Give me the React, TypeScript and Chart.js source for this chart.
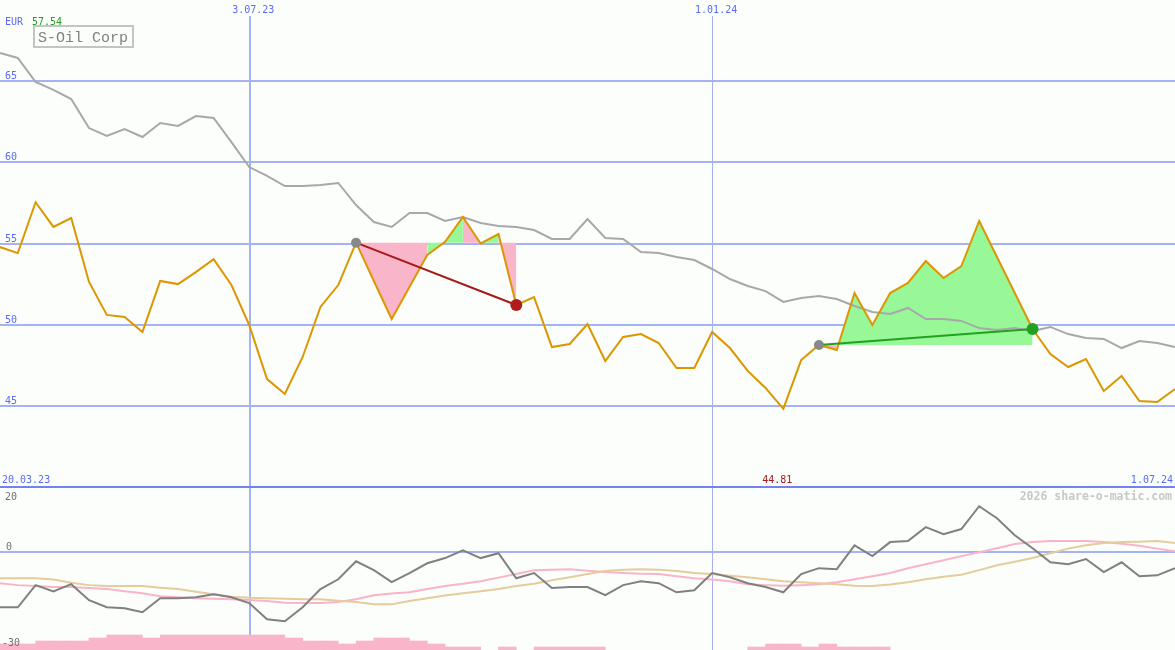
import React, { useEffect, useRef } from 'react';
import { Chart, registerables } from 'chart.js';

Chart.register(...registerables);

// ---------------- data ----------------
const weekIndex = Array.from({ length: 67 }, (_, i) => i);

const closePrices = [
  54.78, 54.41, 57.54, 56.02, 56.57, 52.63, 50.6, 50.47, 49.55, 52.69,
  52.5, 53.24, 54.04, 52.44, 49.98, 46.65, 45.73, 48.01, 51.09, 52.44,
  55.05, 52.69, 50.35, 52.32, 54.29, 55.1, 56.63, 55.0, 55.58, 51.21,
  51.7, 48.62, 48.81, 50.04, 47.76, 49.24, 49.42, 48.87, 47.33, 47.33,
  49.55, 48.56, 47.15, 46.1, 44.81, 47.82, 48.75, 48.44, 51.95, 49.98,
  51.95, 52.57, 53.92, 52.87, 53.61, 56.39, 54.17, 51.95, 49.73, 48.19,
  47.39, 47.88, 45.91, 46.84, 45.3, 45.24, 46.04,
];

const movingAvg = [
  66.74, 66.43, 64.95, 64.46, 63.9, 62.11, 61.62, 62.05, 61.56, 62.42,
  62.24, 62.85, 62.73, 61.25, 59.71, 59.16, 58.54, 58.54, 58.6, 58.73,
  57.37, 56.32, 56.02, 56.88, 56.88, 56.39, 56.63, 56.26, 56.08, 56.02,
  55.83, 55.28, 55.28, 56.51, 55.34, 55.28, 54.48, 54.41, 54.17, 53.98,
  53.43, 52.81, 52.38, 52.07, 51.4, 51.64, 51.77, 51.58, 51.15, 50.78,
  50.66, 51.03, 50.35, 50.35, 50.23, 49.79, 49.67, 49.79, 49.61, 49.86,
  49.42, 49.18, 49.12, 48.56, 48.99, 48.87, 48.62,
];

const oscillator = [
  -16.9, -16.9, -10.1, -12.0, -9.8, -14.7, -16.9, -17.2, -18.4, -14.1,
  -14.1, -13.8, -12.9, -13.8, -15.6, -20.6, -21.2, -16.9, -11.3, -8.3,
  -2.8, -5.5, -9.2, -6.4, -3.4, -1.8, 0.6, -1.8, -0.3, -8.0,
  -6.4, -11.0, -10.7, -10.7, -13.2, -10.1, -8.9, -9.5, -12.3, -11.7,
  -6.4, -7.7, -9.5, -10.7, -12.3, -6.7, -4.9, -5.2, 2.1, -1.2,
  3.1, 3.4, 7.7, 5.5, 7.1, 14.1, 10.4, 5.2, 1.2, -3.1,
  -3.7, -2.1, -6.1, -3.1, -7.4, -7.1, -4.9,
];

const signalPink = [
  -9.5, -10.1, -10.4, -10.7, -10.7, -11.0, -11.3, -12.0, -12.6, -13.5,
  -13.8, -14.1, -14.3, -14.4, -14.7, -15.0, -15.5, -15.6, -15.6, -15.3,
  -14.4, -13.2, -12.7, -12.3, -11.3, -10.4, -9.7, -8.9, -7.8, -6.7,
  -5.5, -5.4, -5.2, -5.7, -6.1, -6.4, -6.6, -6.7, -7.4, -8.0,
  -8.4, -8.9, -9.8, -10.1, -10.3, -10.1, -9.8, -9.2, -8.3, -7.4,
  -6.4, -4.9, -3.7, -2.5, -1.2, 0.0, 1.2, 2.5, 3.1, 3.4,
  3.4, 3.4, 3.1, 2.6, 2.0, 1.1, 0.3,
];

const signalTan = [
  -8.0, -8.0, -8.0, -8.4, -9.4, -10.1, -10.4, -10.4, -10.4, -10.9,
  -11.3, -12.1, -12.9, -13.7, -14.0, -14.1, -14.3, -14.4, -14.4, -14.9,
  -15.3, -16.0, -16.0, -15.0, -14.1, -13.3, -12.6, -12.0, -11.3, -10.4,
  -9.7, -8.6, -7.7, -6.7, -5.8, -5.4, -5.2, -5.4, -5.8, -6.4,
  -6.7, -7.2, -7.7, -8.3, -8.9, -9.2, -9.5, -9.8, -10.3, -10.4,
  -9.9, -9.2, -8.3, -7.5, -6.9, -5.5, -4.0, -2.9, -1.8, -0.3,
  1.1, 2.1, 2.8, 3.1, 3.2, 3.4, 2.8,
];

const volumeBars = [
  1.84, 1.84, 2.76, 2.76, 2.76, 3.68, 4.6, 4.6, 3.68, 4.6,
  4.6, 4.6, 4.6, 4.6, 4.6, 4.6, 3.68, 2.76, 2.76, 1.84,
  2.76, 3.68, 3.68, 2.76, 1.84, 0.92, 0.92, 0, 0.92, 0,
  0.92, 0.92, 0.92, 0.92, 0, 0, 0, 0, 0, 0,
  0, 0, 0.92, 1.84, 1.84, 0.92, 1.84, 0.92, 0.92, 0.92,
  0, 0, 0, 0, 0, 0, 0, 0, 0, 0,
  0, 0, 0, 0, 0, 0, 0,
];

const dateTickLabels = ['3.07.23', '1.01.24'];
const dateTickIdx = [14, 40];
const startDateLabel = '20.03.23';
const endDateLabel = '1.07.24';
const priceTicks = [45, 50, 55, 60, 65];
const oscTicks = [20, 0, -30];
const trades = [
  { entry: 20, exit: 29 },
  { entry: 46, exit: 58 },
];
const title = 'S-Oil Corp';
const currency = 'EUR';
const watermark = '2026 share-o-matic.com';

// ---------------- styles ----------------
const W = 1175;
const bg = '#fbfefb';
const gridBlue = '#a5b3f3';
const sepBlue = '#7282ee';
const labelBlue = '#5b6bf5';
const gold = '#dc9600';
const avgGray = '#a8a8a8';
const fillPink = '#f9b6cb';
const fillGreen = '#98f898';
const lossRed = '#a81818';
const gainGreen = '#22a022';
const mono = '"DejaVu Sans Mono", monospace';

function drawDateLines(ctx: CanvasRenderingContext2D, x: any, top: number, bottom: number) {
  dateTickIdx.forEach((idx, k) => {
    const px = Math.round(x.getPixelForValue(idx));
    ctx.save();
    ctx.strokeStyle = k === 0 ? gridBlue : '#a9b0ea';
    ctx.lineWidth = k === 0 ? 2 : 1;
    const xx = k === 0 ? px + 1 : px + 0.5;
    ctx.beginPath();
    ctx.moveTo(xx, top);
    ctx.lineTo(xx, bottom);
    ctx.stroke();
    ctx.restore();
  });
}

const mainDecor = {
  id: 'mainDecor',
  beforeDatasetsDraw(chart: any) {
    const { ctx, chartArea, scales } = chart;
    drawDateLines(ctx, scales.x, 16, chartArea.bottom);
  },
  afterDraw(chart: any) {
    const { ctx, chartArea } = chart;
    const { x, y } = chart.scales;
    ctx.save();
    ctx.font = `10px ${mono}`;
    ctx.textBaseline = 'alphabetic';
    ctx.fillStyle = labelBlue;
    ctx.textAlign = 'left';
    priceTicks.forEach((v) => ctx.fillText(String(v), 5, Math.round(y.getPixelForValue(v)) - 2));
    ctx.fillText(currency, 5, 25);
    ctx.fillStyle = gainGreen;
    ctx.fillText(Math.max(...closePrices).toFixed(2), 32, 25);
    ctx.fillStyle = labelBlue;
    ctx.textAlign = 'center';
    dateTickIdx.forEach((idx, k) => ctx.fillText(dateTickLabels[k], x.getPixelForValue(idx) + 4, 13));
    ctx.textAlign = 'left';
    ctx.fillText(startDateLabel, 2, chartArea.bottom - 4);
    ctx.textAlign = 'right';
    ctx.fillText(endDateLabel, W - 2, chartArea.bottom - 4);
    const minV = Math.min(...closePrices);
    const minI = closePrices.indexOf(minV);
    ctx.fillStyle = lossRed;
    ctx.textAlign = 'center';
    ctx.fillText(minV.toFixed(2), x.getPixelForValue(minI) - 6, chartArea.bottom - 4);
    // title box
    ctx.fillStyle = bg;
    ctx.fillRect(34, 26, 99, 21);
    ctx.strokeStyle = '#c4c4c4';
    ctx.lineWidth = 2;
    ctx.strokeRect(34, 26, 99, 21);
    ctx.font = '15px "Liberation Mono", monospace';
    ctx.fillStyle = '#808080';
    ctx.textAlign = 'left';
    ctx.fillText(title, 38, 42);
    ctx.restore();
  },
};

const oscDecor = {
  id: 'oscDecor',
  beforeDatasetsDraw(chart: any) {
    const { ctx, chartArea, scales } = chart;
    drawDateLines(ctx, scales.x, chartArea.top, chartArea.bottom);
  },
  afterDraw(chart: any) {
    const { ctx, chartArea } = chart;
    const { y } = chart.scales;
    ctx.save();
    ctx.strokeStyle = sepBlue;
    ctx.lineWidth = 2;
    ctx.beginPath();
    ctx.moveTo(0, chartArea.top);
    ctx.lineTo(W, chartArea.top);
    ctx.stroke();
    ctx.font = `10px ${mono}`;
    ctx.fillStyle = '#707070';
    ctx.textAlign = 'left';
    ctx.fillText(String(oscTicks[0]), 5, chartArea.top + 13);
    ctx.fillText(String(oscTicks[1]), 6, Math.round(y.getPixelForValue(oscTicks[1])) - 2);
    ctx.fillText(String(oscTicks[2]), 2, chartArea.bottom - 4);
    ctx.font = `bold 11.5px ${mono}`;
    ctx.fillStyle = '#c8c8c8';
    ctx.textAlign = 'right';
    ctx.fillText(watermark, W - 3, chartArea.top + 13);
    ctx.restore();
  },
};

function tradeFill(entry: number, exit: number) {
  const level = closePrices[entry];
  return {
    type: 'line',
    data: closePrices.map((v, i) => (i >= entry && i <= exit ? v : null)),
    borderWidth: 0,
    borderColor: 'rgba(0,0,0,0)',
    pointRadius: 0,
    backgroundColor: fillGreen,
    fill: { value: level },
    segment: {
      backgroundColor: (c: any) => (c.p1.parsed.y >= level ? fillGreen : fillPink),
    },
    spanGaps: false,
    order: 10,
  };
}

function tradeLine(entry: number, exit: number) {
  const win = closePrices[exit] >= closePrices[entry];
  return {
    type: 'line',
    data: [
      { x: entry, y: closePrices[entry] },
      { x: exit, y: closePrices[exit] },
    ],
    borderColor: win ? gainGreen : lossRed,
    borderWidth: 2,
    pointRadius: 0,
    fill: false,
    order: 1,
  };
}

const tradePoints: any[] = [];
const tradeColors: string[] = [];
const tradeRadii: number[] = [];
trades.forEach(({ entry, exit }) => {
  tradePoints.push({ x: entry, y: closePrices[entry] });
  tradeColors.push('#888888');
  tradeRadii.push(5);
  tradePoints.push({ x: exit, y: closePrices[exit] });
  tradeColors.push(closePrices[exit] >= closePrices[entry] ? gainGreen : '#b01c1c');
  tradeRadii.push(6);
});

export default function App() {
  const mainRef = useRef<HTMLCanvasElement | null>(null);
  const oscRef = useRef<HTMLCanvasElement | null>(null);

  useEffect(() => {
    document.body.style.margin = '0';
    document.body.style.background = bg;
    const common: any = {
      animation: false,
      responsive: false,
      maintainAspectRatio: false,
      events: [],
      plugins: { legend: { display: false }, tooltip: { enabled: false } },
      elements: { point: { radius: 0 }, line: { tension: 0 } },
    };

    const main = new Chart(mainRef.current as HTMLCanvasElement, {
      type: 'line',
      data: {
        labels: weekIndex,
        datasets: [
          {
            type: 'line',
            data: tradePoints,
            showLine: false,
            pointRadius: tradeRadii,
            pointBackgroundColor: tradeColors,
            pointBorderWidth: 0,
            order: 0,
          },
          ...trades.map((t) => tradeLine(t.entry, t.exit)),
          {
            type: 'line',
            data: closePrices,
            borderColor: gold,
            borderWidth: 2,
            pointRadius: 0,
            fill: false,
            order: 2,
          },
          {
            type: 'line',
            data: movingAvg,
            borderColor: avgGray,
            borderWidth: 2,
            pointRadius: 0,
            fill: false,
            order: 3,
          },
          ...trades.map((t) => tradeFill(t.entry, t.exit)),
        ] as any,
      },
      options: {
        ...common,
        layout: { padding: 0, autoPadding: false },
        scales: {
          x: { type: 'linear', min: 0, max: 66, display: false, offset: false },
          y: {
            type: 'linear',
            min: 40,
            max: 70,
            ticks: { display: false, stepSize: 5 },
            grid: {
              color: (c: any) => (priceTicks.includes(c.tick?.value) ? gridBlue : 'rgba(0,0,0,0)'),
              lineWidth: 2,
              drawTicks: false,
            },
            border: { display: false },
            afterFit: (s: any) => {
              s.width = 0;
            },
          },
        },
      } as any,
      plugins: [mainDecor],
    });

    const barData: any[] = [];
    volumeBars.forEach((h, i) => {
      if (h > 0) barData.push({ x: i + 0.5, y: [-30, -30 + h] });
    });

    const osc = new Chart(oscRef.current as HTMLCanvasElement, {
      type: 'line',
      data: {
        labels: weekIndex,
        datasets: [
          {
            type: 'line',
            data: oscillator,
            borderColor: '#808080',
            borderWidth: 2,
            pointRadius: 0,
            fill: false,
            order: 0,
          },
          {
            type: 'line',
            data: signalTan,
            borderColor: '#e4cc9c',
            borderWidth: 2,
            pointRadius: 0,
            fill: false,
            order: 1,
          },
          {
            type: 'line',
            data: signalPink,
            borderColor: '#f9b4c9',
            borderWidth: 2,
            pointRadius: 0,
            fill: false,
            order: 2,
          },
          {
            type: 'bar',
            data: barData,
            backgroundColor: '#f9b6cb',
            borderWidth: 0,
            barPercentage: 1,
            categoryPercentage: 1,
            grouped: false,
            order: 5,
          },
        ] as any,
      },
      options: {
        ...common,
        layout: { padding: { top: 2 }, autoPadding: false },
        scales: {
          x: { type: 'linear', min: 0, max: 66, display: false, offset: false },
          y: {
            type: 'linear',
            min: -30,
            max: 20,
            ticks: { display: false, stepSize: 10 },
            grid: {
              color: (c: any) => (c.tick?.value === 0 ? gridBlue : 'rgba(0,0,0,0)'),
              lineWidth: 2,
              drawTicks: false,
            },
            border: { display: false },
            afterFit: (s: any) => {
              s.width = 0;
            },
          },
        },
      } as any,
      plugins: [oscDecor],
    });

    return () => {
      main.destroy();
      osc.destroy();
    };
  }, []);

  return (
    <div style={{ position: 'fixed', left: 0, top: 0, width: W, height: 650, background: bg, overflow: 'hidden' }}>
      <canvas ref={mainRef} width={W} height={487} style={{ position: 'absolute', left: 0, top: 0, display: 'block' }} />
      <canvas ref={oscRef} width={W} height={165} style={{ position: 'absolute', left: 0, top: 485, display: 'block' }} />
    </div>
  );
}
